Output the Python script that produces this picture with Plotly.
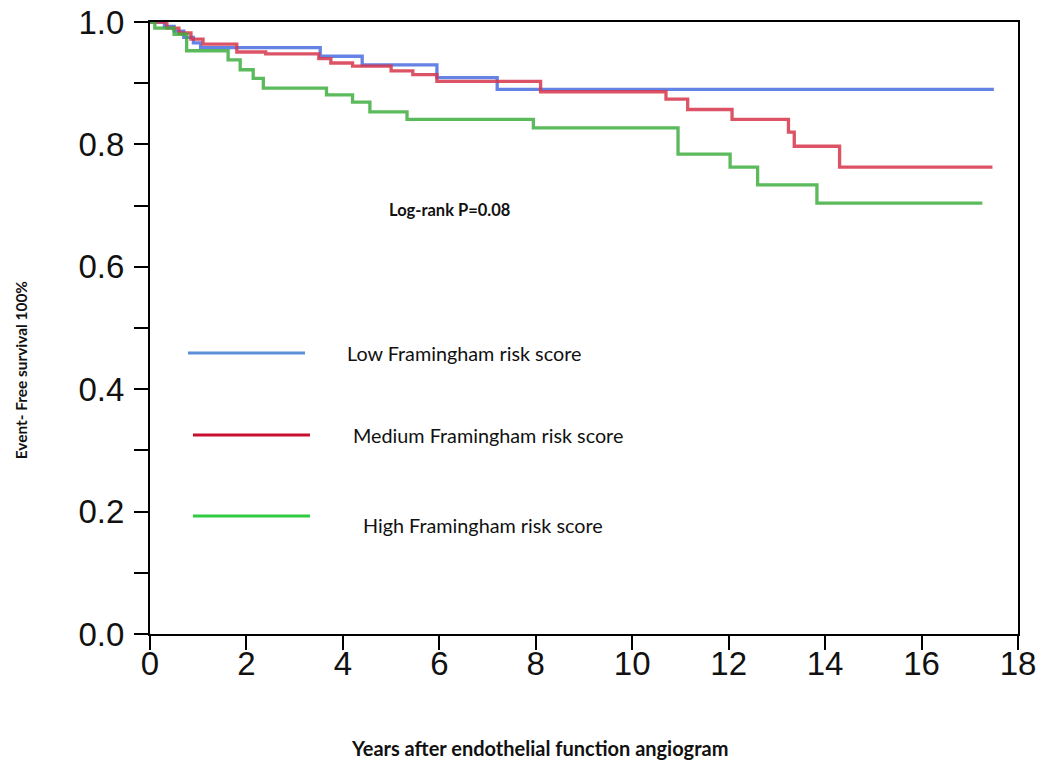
import plotly.graph_objects as go

# ---- data ----
low_t = [0, 0.3, 0.5, 0.7, 0.9, 1.05, 3.53, 4.4, 5.95, 7.2, 17.5]
low_s = [1.0, 0.993, 0.985, 0.975, 0.966, 0.958, 0.944, 0.930, 0.909, 0.890, 0.890]

med_t = [0, 0.35, 0.6, 0.85, 1.1, 1.8, 2.4, 3.5, 3.75, 4.2, 5.0, 5.45, 5.95, 8.1, 10.7, 11.15, 12.07, 13.24, 13.36, 14.3, 17.47]
med_s = [1.0, 0.99, 0.982, 0.972, 0.964, 0.951, 0.948, 0.940, 0.933, 0.928, 0.920, 0.914, 0.903, 0.886, 0.874, 0.857, 0.841, 0.820, 0.797, 0.763, 0.763]

high_t = [0, 0.1, 0.5, 0.76, 1.62, 1.87, 2.14, 2.35, 3.66, 4.2, 4.56, 5.33, 7.95, 10.95, 12.03, 12.6, 13.83, 17.26]
high_s = [1.0, 0.99, 0.98, 0.953, 0.938, 0.922, 0.908, 0.892, 0.881, 0.869, 0.853, 0.841, 0.827, 0.784, 0.763, 0.734, 0.704, 0.704]

group_names = ["Low Framingham risk score", "Medium Framingham risk score", "High Framingham risk score"]
x_ticks = [0, 2, 4, 6, 8, 10, 12, 14, 16, 18]
y_ticks = [0.0, 0.1, 0.2, 0.3, 0.4, 0.5, 0.6, 0.7, 0.8, 0.9, 1.0]
y_labels = ["0.0", "", "0.2", "", "0.4", "", "0.6", "", "0.8", "", "1.0"]

curve_colors = ["#4a6ee0", "#d8364c", "#3fae3f"]
legend_colors = ["#5b8fd8", "#c8102e", "#2ecc40"]

fig = go.Figure()
for t, s, c, n in zip([low_t, med_t, high_t], [low_s, med_s, high_s], curve_colors, group_names):
    fig.add_trace(go.Scatter(x=t, y=s, mode="lines", line=dict(color=c, width=3.3, shape="hv"),
                             opacity=0.85, name=n, showlegend=False))

# custom legend (line samples + labels)
leg_y = [0.459, 0.325, 0.193]
leg_x0 = [0.0438, 0.0495, 0.0495]
leg_x1 = [0.1786, 0.1843, 0.1843]
txt_x = [0.2246, 0.2316, 0.2431]
txt_y = [0.459, 0.325, 0.178]
for i in range(3):
    fig.add_shape(type="line", xref="paper", yref="paper", x0=leg_x0[i], x1=leg_x1[i],
                  y0=leg_y[i], y1=leg_y[i], line=dict(color=legend_colors[i], width=3))
    fig.add_annotation(xref="paper", yref="paper", x=txt_x[i], y=txt_y[i], text=group_names[i],
                       showarrow=False, xanchor="left", yanchor="middle",
                       font=dict(family="Lato", size=19.8, color="#111111"))

fig.add_annotation(xref="paper", yref="paper", x=0.3456, y=0.693, text="<b>Log-rank P=0.08</b>",
                   showarrow=False, xanchor="center", yanchor="middle",
                   font=dict(family="Lato", size=16.5, color="#111111"))
fig.add_annotation(xref="paper", yref="paper", x=0.449, y=-0.186,
                   text="<b>Years after endothelial function angiogram</b>",
                   showarrow=False, xanchor="center", yanchor="middle",
                   font=dict(family="Lato", size=20, color="#111111"))
fig.add_annotation(xref="paper", yref="paper", x=-0.1486, y=0.431,
                   text="<b>Event- Free survival 100%</b>", textangle=-90,
                   showarrow=False, xanchor="center", yanchor="middle",
                   font=dict(family="Lato", size=15.4, color="#111111"))

axis_font = dict(family="Liberation Sans", size=33, color="#111111")
fig.update_xaxes(range=[0, 18], tickvals=x_ticks, ticks="outside", ticklen=14, tickwidth=2,
                 tickcolor="black", showline=True, linecolor="black", linewidth=2, mirror=True,
                 showgrid=False, zeroline=False, tickfont=axis_font, automargin=False,
                 ticklabelstandoff=-15, ticklabeloverflow="allow")
fig.update_yaxes(range=[0, 1], tickvals=y_ticks, ticktext=y_labels, ticks="outside", ticklen=14,
                 tickwidth=2, tickcolor="black", showline=True, linecolor="black", linewidth=2,
                 mirror=True, showgrid=False, zeroline=False, tickfont=axis_font, automargin=False,
                 ticklabelstandoff=3, ticklabeloverflow="allow")

fig.update_layout(width=1050, height=767, margin=dict(l=150, r=32, t=22, b=133),
                  plot_bgcolor="white", paper_bgcolor="white", showlegend=False)

fig.write_html("out.html", config={"displayModeBar": False},
               post_script="document.body.style.margin='0';")
